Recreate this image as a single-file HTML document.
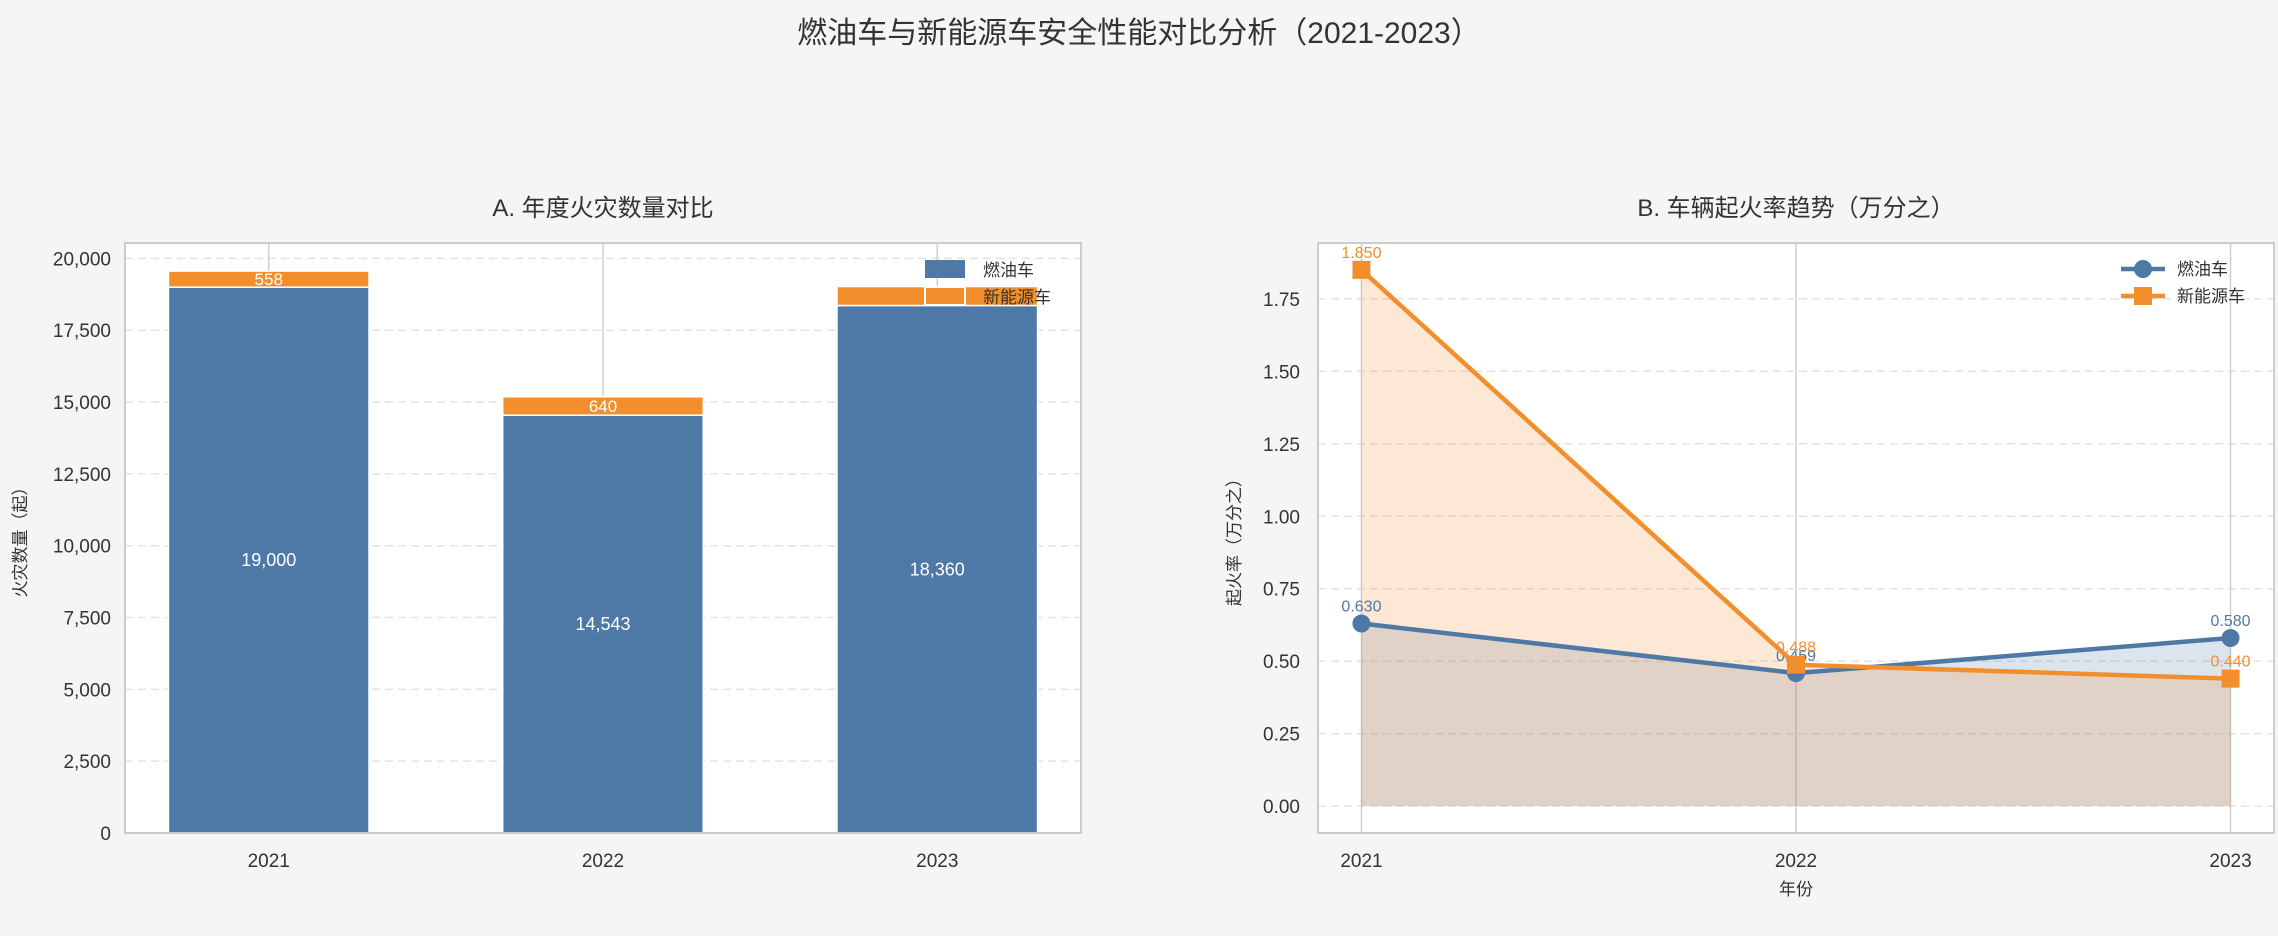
<!DOCTYPE html>
<html><head><meta charset="utf-8"><style>
body{margin:0;background:#f5f5f5;}
svg{display:block;font-family:"Liberation Sans","Noto Sans CJK SC",sans-serif;}
</style></head><body>
<svg id="c" width="2278" height="936">
<rect x="0" y="0" width="2278" height="936" fill="#f5f5f5"/>
<text x="1139" y="43" text-anchor="middle" font-size="30" fill="#333">燃油车与新能源车安全性能对比分析（2021-2023）</text>
</svg>
<script>
const years=['2021','2022','2023'];
const fuelFires=[19000,14543,18360];
const nevFires=[558,640,660];
const leftTicks=[0,2500,5000,7500,10000,12500,15000,17500,20000];
const fuelRate=[0.630,0.459,0.580];
const nevRate=[1.850,0.488,0.440];
const rightTicks=[0,0.25,0.5,0.75,1.0,1.25,1.5,1.75];
const BLUE='#4e79a7',ORANGE='#f28e2b';
const svg=document.getElementById('c');
const NS='http://www.w3.org/2000/svg';
function mk(tag,at,txt){const e=document.createElementNS(NS,tag);for(const k in at)e.setAttribute(k,at[k]);if(txt!==undefined)e.textContent=txt;svg.appendChild(e);return e;}

// ---- Panel A ----
const A={x0:125,x1:1081,y0:243,y1:833};
const aMax=Math.max(...fuelFires.map((v,i)=>v+nevFires[i]))*1.05;
const ay=v=>A.y1-(v/aMax)*(A.y1-A.y0);
const aStep=(A.x1-A.x0)/(years.length-1+0.86);
const ax=i=>A.x0+aStep*(0.43+i);
let e=mk('rect',{x:A.x0,y:A.y0,width:A.x1-A.x0,height:A.y1-A.y0,fill:'#fff'});

leftTicks.forEach(t=>{
 e=mk('line',{x1:A.x0,x2:A.x1,y1:ay(t),y2:ay(t),stroke:'#e3e3e3','stroke-dasharray':'8,5','stroke-width':1.5});
 
 e=mk('text',{x:A.x0-14,y:ay(t)+7,'text-anchor':'end','font-size':19,fill:'#333'},t.toLocaleString('en-US'));
 
});
years.forEach((y,i)=>{
 e=mk('line',{x1:ax(i),x2:ax(i),y1:A.y0,y2:A.y1,stroke:'#cfcfcf','stroke-width':1.5});
 
});
const bw=aStep*0.6;
years.forEach((y,i)=>{
 const f=fuelFires[i],n=nevFires[i];
 e=mk('rect',{x:ax(i)-bw/2,y:ay(f),width:bw,height:ay(0)-ay(f),fill:BLUE,stroke:'#fff','stroke-width':1.5});
 
 e=mk('rect',{x:ax(i)-bw/2,y:ay(f+n),width:bw,height:ay(f)-ay(f+n),fill:ORANGE,stroke:'#fff','stroke-width':1.5});
 
 e=mk('text',{x:ax(i),y:ay(f/2)+6,'text-anchor':'middle','font-size':18,fill:'#fff'},f.toLocaleString('en-US'));
 
 e=mk('text',{x:ax(i),y:ay(f+n/2)+6,'text-anchor':'middle','font-size':17,fill:'#fff'},n.toLocaleString('en-US'));
 
 e=mk('text',{x:ax(i),y:A.y1+34,'text-anchor':'middle','font-size':19,fill:'#333'},y);
 
});
e=mk('rect',{x:A.x0,y:A.y0,width:A.x1-A.x0,height:A.y1-A.y0,fill:'none',stroke:'#ccc','stroke-width':2});

e=mk('text',{x:(A.x0+A.x1)/2,y:216,'text-anchor':'middle','font-size':24,fill:'#333'},'A. 年度火灾数量对比');

e=mk('text',{x:26,y:(A.y0+A.y1)/2,'text-anchor':'middle','font-size':17,fill:'#333',transform:`rotate(-90 26 ${(A.y0+A.y1)/2})`},'火灾数量（起）');

e=mk('rect',{x:925,y:260,width:40,height:18,fill:BLUE});

e=mk('text',{x:983,y:276,'font-size':17,fill:'#333'},'燃油车');

e=mk('rect',{x:925,y:287,width:40,height:18,fill:ORANGE,stroke:'#fff','stroke-width':2});

e=mk('text',{x:983,y:303,'font-size':17,fill:'#333'},'新能源车');


// ---- Panel B ----
const B={x0:1318,x1:2274,y0:243,y1:833};
const allR=fuelRate.concat(nevRate);const rMax=Math.max(...allR),rMin=0;
const rLo=rMin-0.05*(rMax-rMin),rHi=rMax+0.05*(rMax-rMin);
const by=v=>B.y1-(v-rLo)/(rHi-rLo)*(B.y1-B.y0);
const bx=i=>B.x0+(i+0.1)/(years.length-1+0.2)*(B.x1-B.x0);
e=mk('rect',{x:B.x0,y:B.y0,width:B.x1-B.x0,height:B.y1-B.y0,fill:'#fff'});

rightTicks.forEach(t=>{
 e=mk('line',{x1:B.x0,x2:B.x1,y1:by(t),y2:by(t),stroke:'#e3e3e3','stroke-dasharray':'8,5','stroke-width':1.5});
 
 e=mk('text',{x:B.x0-18,y:by(t)+7,'text-anchor':'end','font-size':19,fill:'#333'},t.toFixed(2));
 
});
years.forEach((y,i)=>{
 e=mk('line',{x1:bx(i),x2:bx(i),y1:B.y0,y2:B.y1,stroke:'#cfcfcf','stroke-width':1.5});
 
 e=mk('text',{x:bx(i),y:B.y1+34,'text-anchor':'middle','font-size':19,fill:'#333'},y);
 
});
function area(vals,col,name){
 let d='M'+bx(0)+','+by(0);vals.forEach((v,i)=>d+=' L'+bx(i)+','+by(v));d+=' L'+bx(vals.length-1)+','+by(0)+' Z';
 const p=mk('path',{d:d,fill:col,'fill-opacity':0.2});
 
}
area(fuelRate,BLUE,'fuel-rate-area');area(nevRate,ORANGE,'nev-rate-area');
function series(vals,col,name,sq){
 const pts=vals.map((v,i)=>bx(i)+','+by(v)).join(' ');
 let l=mk('polyline',{points:pts,fill:'none',stroke:col,'stroke-width':4.5});
 
 vals.forEach((v,i)=>{
  let m;
  if(sq)m=mk('rect',{x:bx(i)-9,y:by(v)-9,width:18,height:18,fill:col});
  else m=mk('circle',{cx:bx(i),cy:by(v),r:9,fill:col});
  
  const t=mk('text',{x:bx(i),y:by(v)-12,'text-anchor':'middle','font-size':16,fill:col},v.toFixed(3));
  
 });
}
series(fuelRate,BLUE,'fuel-rate',false);series(nevRate,ORANGE,'nev-rate',true);
e=mk('rect',{x:B.x0,y:B.y0,width:B.x1-B.x0,height:B.y1-B.y0,fill:'none',stroke:'#ccc','stroke-width':2});

e=mk('text',{x:(B.x0+B.x1)/2,y:216,'text-anchor':'middle','font-size':24,fill:'#333'},'B. 车辆起火率趋势（万分之）');

e=mk('text',{x:1796,y:895,'text-anchor':'middle','font-size':17,fill:'#333'},'年份');

e=mk('text',{x:1240,y:(B.y0+B.y1)/2,'text-anchor':'middle','font-size':17,fill:'#333',transform:`rotate(-90 1240 ${(B.y0+B.y1)/2})`},'起火率（万分之）');

e=mk('line',{x1:2121,x2:2165,y1:269,y2:269,stroke:BLUE,'stroke-width':4.5});

e=mk('circle',{cx:2143,cy:269,r:9,fill:BLUE});

e=mk('text',{x:2177,y:275,'font-size':17,fill:'#333'},'燃油车');

e=mk('line',{x1:2121,x2:2165,y1:296,y2:296,stroke:ORANGE,'stroke-width':4.5});

e=mk('rect',{x:2134,y:287,width:18,height:18,fill:ORANGE});

e=mk('text',{x:2177,y:302,'font-size':17,fill:'#333'},'新能源车');

</script>
</body></html>
